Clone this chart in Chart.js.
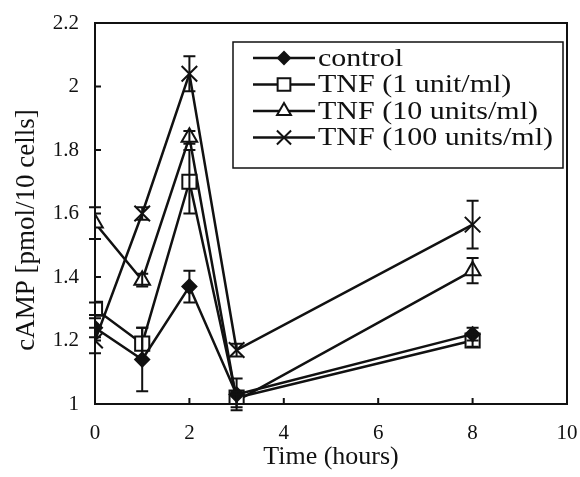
<!DOCTYPE html>
<html>
<head>
<meta charset="utf-8">
<script src="https://cdn.jsdelivr.net/npm/chart.js@4.4.1/dist/chart.umd.min.js"></script>
<style>
  html, body { margin: 0; padding: 0; background: #fff; }
  #wrap { width: 580px; height: 477px; }
</style>
</head>
<body>
<div id="wrap"><canvas id="myChart" width="580" height="477"></canvas></div>
<script>
const times = [0, 1, 2, 3, 8];

const control = [1.24, 1.14, 1.37, 1.03, 1.22];
const controlErr = [0.03, 0.10, 0.05, 0.05, 0.02];
const tnf1 = [1.30, 1.19, 1.70, 1.02, 1.20];
const tnf1Err = [0.02, 0.05, 0.10, 0.02, 0.02];
const tnf10 = [1.57, 1.39, 1.84, 1.01, 1.42];
const tnf10Err = [0.05, 0.02, 0.02, 0.02, 0.04];
const tnf100 = [1.20, 1.60, 2.04, 1.17, 1.565];
const tnf100Err = [0.04, 0.02, 0.055, 0.02, 0.075];

const labels = ["control", "TNF (1 unit/ml)", "TNF (10 units/ml)", "TNF (100 units/ml)"];
const xTicks = [0, 2, 4, 6, 8, 10];
const yTicks = [1, 1.2, 1.4, 1.6, 1.8, 2, 2.2];
const yTitle = "cAMP [pmol/10 cells]";

const ink = "#111";
const serif = "'Liberation Serif', 'DejaVu Serif', serif";

function points(values) {
  return times.map((t, i) => ({ x: t, y: values[i] }));
}

function series(label, values, errs, style, radius, fill) {
  return {
    label,
    data: points(values),
    errors: errs,
    borderColor: ink,
    borderWidth: 2.5,
    pointStyle: style,
    pointRadius: radius,
    pointBorderWidth: 2,
    pointBackgroundColor: fill,
    pointBorderColor: ink,
    tension: 0,
  };
}

// vertical error bars with caps
const errorBars = {
  id: "errorBars",
  afterDatasetsDraw(chart) {
    const c = chart.ctx;
    const xs = chart.scales.x, ys = chart.scales.y;
    c.save();
    c.strokeStyle = ink;
    c.lineWidth = 2;
    chart.data.datasets.forEach((ds) => {
      ds.data.forEach((p, i) => {
        const e = ds.errors[i];
        const px = xs.getPixelForValue(p.x);
        const top = ys.getPixelForValue(p.y + e);
        const bot = ys.getPixelForValue(p.y - e);
        c.beginPath();
        c.moveTo(px, top); c.lineTo(px, bot);
        c.moveTo(px - 6, top); c.lineTo(px + 6, top);
        c.moveTo(px - 6, bot); c.lineTo(px + 6, bot);
        c.stroke();
      });
    });
    c.restore();
  }
};

// box around plot, inward ticks, y title, legend box
const frame = {
  id: "frame",
  afterDraw(chart) {
    const c = chart.ctx;
    const a = chart.chartArea;
    const xs = chart.scales.x, ys = chart.scales.y;
    c.save();
    c.strokeStyle = ink;
    c.lineWidth = 2;
    c.strokeRect(a.left, a.top, a.right - a.left, a.bottom - a.top);
    c.beginPath();
    xTicks.forEach((t) => {
      const px = xs.getPixelForValue(t);
      c.moveTo(px, a.bottom); c.lineTo(px, a.bottom - 6);
    });
    yTicks.forEach((t) => {
      const py = ys.getPixelForValue(t);
      c.moveTo(a.left, py); c.lineTo(a.left + 6, py);
    });
    c.stroke();

    // y axis title
    c.save();
    c.translate(27, 230);
    c.rotate(-Math.PI / 2);
    c.font = "27px " + serif;
    c.fillStyle = ink;
    c.textAlign = "center";
    c.textBaseline = "middle";
    c.fillText(yTitle, 0, 0);
    c.restore();

    // legend
    const bx = 233, by = 42, bw = 330, bh = 126;
    c.fillStyle = "#fff";
    c.fillRect(bx, by, bw, bh);
    c.lineWidth = 1.5;
    c.strokeRect(bx, by, bw, bh);
    c.textBaseline = "middle";
    chart.data.datasets.forEach((ds, i) => {
      const ly = 58 + i * 26.5;
      c.strokeStyle = ink;
      c.lineWidth = 2.5;
      c.beginPath();
      c.moveTo(253, ly); c.lineTo(315, ly);
      c.stroke();
      c.fillStyle = ds.pointBackgroundColor;
      c.lineWidth = 2;
      Chart.helpers.drawPoint(c, {
        pointStyle: ds.pointStyle,
        radius: ds.pointRadius - 1,
        rotation: 0,
        borderWidth: 2
      }, 284, ly);
      c.save();
      c.translate(318, ly + 1);
      c.scale(1.2, 1);
      c.font = "25px " + serif;
      c.fillStyle = ink;
      c.fillText(ds.label, 0, 0);
      c.restore();
    });
    c.restore();
  }
};

const data = {
  datasets: [
    series(labels[0], control, controlErr, "rectRot", 7, ink),
    series(labels[1], tnf1, tnf1Err, "rect", 10, "#fff"),
    series(labels[2], tnf10, tnf10Err, "triangle", 9, "#fff"),
    series(labels[3], tnf100, tnf100Err, "crossRot", 11, ink),
  ],
};

const config = {
  type: "line",
  data: data,
  options: {
    responsive: false,
    animation: false,
    layout: { padding: { left: 0, right: 0, top: 23, bottom: 0 } },
    scales: {
      x: {
        type: "linear",
        min: 0,
        max: 10,
        afterBuildTicks: (s) => { s.ticks = xTicks.map((v) => ({ value: v })); },
        afterFit: (s) => { s.height = 73; s.paddingRight = 12; s.paddingLeft = 0; },
        grid: { display: false },
        border: { display: false },
        ticks: {
          color: ink,
          padding: 9,
          font: { family: serif, size: 21 },
          maxRotation: 0,
        },
        title: {
          display: true,
          text: "Time (hours)",
          color: ink,
          font: { family: serif, size: 26 },
          padding: { top: 0 },
        },
      },
      y: {
        min: 1,
        max: 2.2,
        afterBuildTicks: (s) => { s.ticks = yTicks.map((v) => ({ value: v })); },
        afterFit: (s) => { s.width = 95; },
        grid: { display: false },
        border: { display: false },
        ticks: {
          color: ink,
          padding: 8,
          font: { family: serif, size: 21 },
          callback: (v) => String(Math.round(v * 10) / 10),
        },
      },
    },
    plugins: {
      legend: { display: false },
      tooltip: { enabled: false },
    },
  },
  plugins: [errorBars, frame],
};

const myChart = new Chart(document.getElementById("myChart").getContext("2d"), config);
</script>
</body>
</html>
